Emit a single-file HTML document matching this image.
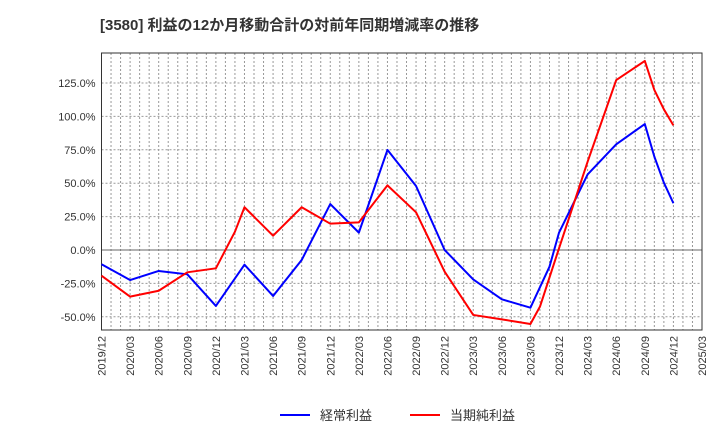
<!DOCTYPE html>
<html><head><meta charset="utf-8"><style>
body{margin:0;background:#fff;font-family:"Liberation Sans","Noto Sans CJK JP",sans-serif}
</style></head><body>
<svg width="720" height="440" xmlns="http://www.w3.org/2000/svg" font-family="Liberation Sans, Noto Sans CJK JP, sans-serif">
<text x="100" y="30" font-size="15" font-weight="bold" fill="#333">[3580]  利益の12か月移動合計の対前年同期増減率の推移</text>
<g id="grid"></g><g id="axes"></g><g id="series"></g>
<g>
<line x1="280" y1="415" x2="310" y2="415" stroke="#0000ff" stroke-width="2"/>
<text x="320" y="420" font-size="13" fill="#333">経常利益</text>
<line x1="410" y1="415" x2="440" y2="415" stroke="#ff0000" stroke-width="2"/>
<text x="450" y="420" font-size="13" fill="#333">当期純利益</text>
</g>
</svg>
<script>
const xLabels=["2019/12","2020/03","2020/06","2020/09","2020/12","2021/03","2021/06","2021/09","2021/12","2022/03","2022/06","2022/09","2022/12","2023/03","2023/06","2023/09","2023/12","2024/03","2024/06","2024/09","2024/12","2025/03"];
const yTicks=[-50,-25,0,25,50,75,100,125];
const blueMonths=[0,3,6,9,12,15,18,21,24,27,30,33,36,39,42,45,47,48,51,54,57,58,59,60];
const blueValues=[-10.7,-22.5,-15.7,-18.2,-41.9,-11,-34.4,-7.5,34.4,13,74.9,47.9,0,-22,-36.9,-43.2,-12.5,13,56.6,79.1,94.3,69.9,50.4,35];
const redMonths=[0,3,6,9,12,14,15,18,21,24,27,30,33,36,39,42,45,46,48,51,54,57,58,59,60];
const redValues=[-19.2,-34.9,-30.5,-16.7,-13.7,13.7,32,10.7,32,19.7,20.7,48.4,28.2,-16.2,-48.6,-51.9,-55.4,-42.4,1.3,66.1,127.2,141.5,119.8,105.3,93.3];
const L=101.5,R=702,T=53,B=330;
const xs=m=>L+(R-L)*m/63, ys=v=>250-v*33.4/25;
const NS="http://www.w3.org/2000/svg";
function mk(t,a,p){const e=document.createElementNS(NS,t);for(const k in a)e.setAttribute(k,a[k]);p.appendChild(e);return e;}
const grid=document.getElementById('grid'),axes=document.getElementById('axes'),ser=document.getElementById('series');
for(let m=1;m<63;m++){const l=mk('line',{x1:xs(m),x2:xs(m),y1:T,y2:B,stroke:'#999','stroke-dasharray':'2,2','stroke-width':1},grid);

}
yTicks.forEach(v=>{const l=mk('line',{x1:L,x2:R,y1:ys(v),y2:ys(v),stroke:v===0?'#666':'#999','stroke-dasharray':v===0?'':'2,2','stroke-width':1},grid);


const t=mk('text',{x:L-6,y:ys(v)+4,'text-anchor':'end','font-size':11,fill:'#333'},axes);t.textContent=v.toFixed(1)+'%';

});
xLabels.forEach((s,i)=>{const x=xs(i*3);const t=mk('text',{x:0,y:0,transform:`translate(${x+4},${B+6}) rotate(-90)`,'text-anchor':'end','font-size':11,fill:'#333'},axes);t.textContent=s;

});
const fr=mk('rect',{x:L,y:T,width:R-L,height:B-T,fill:'none',stroke:'#333','stroke-width':1},axes);


function line(ms,vs,c,n){const p=mk('polyline',{points:ms.map((m,i)=>xs(m)+','+ys(vs[i])).join(' '),fill:'none',stroke:c,'stroke-width':2,'stroke-linejoin':'round'},ser);

}
line(blueMonths,blueValues,'#0000ff','ordinary-profit-line');
line(redMonths,redValues,'#ff0000','net-profit-line');
</script>
</body></html>
